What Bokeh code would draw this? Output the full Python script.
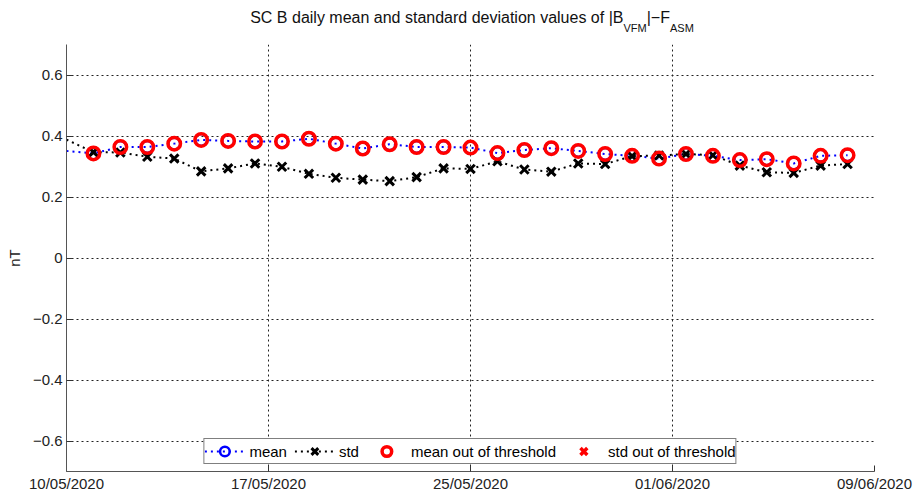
import pandas as pd
from bokeh.plotting import figure
from bokeh.layouts import column
from bokeh.models import (ColumnDataSource, FixedTicker, Legend, LegendItem, Range1d, Div)
from bokeh.embed import file_html
from bokeh.resources import INLINE

# ---------------- data ----------------
# daily samples; first sample (10/05) sits on the left axis edge (line only)
dates = ["2020-05-10", "2020-05-11", "2020-05-12", "2020-05-13", "2020-05-14", "2020-05-15",
         "2020-05-16", "2020-05-17", "2020-05-18", "2020-05-19", "2020-05-20", "2020-05-21",
         "2020-05-22", "2020-05-23", "2020-05-24", "2020-05-25", "2020-05-26", "2020-05-27",
         "2020-05-28", "2020-05-29", "2020-05-30", "2020-05-31", "2020-06-01", "2020-06-02",
         "2020-06-03", "2020-06-04", "2020-06-05", "2020-06-06", "2020-06-07", "2020-06-08"]
mean_vals = [0.351, 0.343, 0.364, 0.364, 0.375, 0.387, 0.384, 0.382, 0.382, 0.391,
             0.375, 0.359, 0.373, 0.364, 0.364, 0.362, 0.344, 0.354, 0.360, 0.351,
             0.341, 0.335, 0.326, 0.341, 0.335, 0.321, 0.324, 0.310, 0.335, 0.337]
std_vals = [0.388, 0.347, 0.346, 0.332, 0.326, 0.284, 0.294, 0.310, 0.299, 0.276,
            0.263, 0.257, 0.252, 0.265, 0.294, 0.292, 0.317, 0.290, 0.283, 0.310,
            0.308, 0.334, 0.336, 0.341, 0.337, 0.303, 0.281, 0.279, 0.303, 0.308]
# all shown mean values are out of threshold; no std value is (NaN placeholder)
mean_out_dates = dates[1:]
mean_out_vals = mean_vals[1:]
std_out_dates = ["2020-05-11"]
std_out_vals = [float("nan")]

x_range_dates = ["2020-05-10 00:00", "2020-06-09 00:00"]
x_tick_dates = ["2020-05-10 00:00", "2020-05-17 12:00", "2020-05-25 00:00",
                "2020-06-01 12:00", "2020-06-09 00:00"]
x_tick_labels = ["10/05/2020", "17/05/2020", "25/05/2020", "01/06/2020", "09/06/2020"]
y_ticks = [-0.6, -0.4, -0.2, 0.0, 0.2, 0.4, 0.6]
y_tick_labels = ["\u22120.6", "\u22120.4", "\u22120.2", "0", "0.2", "0.4", "0.6"]
y_limits = [-0.7, 0.7]

title_main = "SC B daily mean and standard deviation values of |B"
title_sub1 = "VFM"
title_mid = "|\u2212F"
title_sub2 = "ASM"


def ms(d):
    return pd.Timestamp(d).value / 1e6


FONT = "Liberation Sans"

x = [pd.Timestamp(d) for d in dates]
src_all = ColumnDataSource(dict(x=x, mean=mean_vals, std=std_vals))
src_pts = ColumnDataSource(dict(x=x[1:], mean=mean_vals[1:], std=std_vals[1:]))
src_mout = ColumnDataSource(dict(x=[pd.Timestamp(d) for d in mean_out_dates], y=mean_out_vals))
src_sout = ColumnDataSource(dict(x=[pd.Timestamp(d) for d in std_out_dates], y=std_out_vals))

p = figure(width=917, height=465, x_axis_type="datetime", output_backend="svg",
           toolbar_location=None,
           x_range=Range1d(ms(x_range_dates[0]), ms(x_range_dates[1])),
           y_range=Range1d(y_limits[0], y_limits[1]),
           min_border_left=66, min_border_right=43, min_border_top=12, min_border_bottom=26,
           margin=(0, 0, 0, 0))
p.outline_line_color = None
p.background_fill_color = "white"
p.border_fill_color = "white"

# glyphs
r_mean_line = p.line("x", "mean", source=src_all, line_color="#0000ff", line_width=2, line_dash="2 4")
r_mean_pts = p.scatter("x", "mean", source=src_pts, marker="circle", size=12, fill_color=None,
                       line_color="#0000ff", line_width=2.5)
r_std_line = p.line("x", "std", source=src_all, line_color="black", line_width=2, line_dash="2 4")
r_std_pts = p.scatter("x", "std", source=src_pts, marker="x", size=12, line_color="black", line_width=3)
r_mout = p.scatter("x", "y", source=src_mout, marker="circle", size=12.5, fill_color=None,
                   line_color="#ff0000", line_width=3.5)
r_sout = p.scatter("x", "y", source=src_sout, marker="x", size=12, line_color="#ff0000", line_width=3.5)

# axes
xt = [ms(d) for d in x_tick_dates]
p.xaxis.ticker = FixedTicker(ticks=xt)
p.xaxis.major_label_overrides = {t: l for t, l in zip(xt, x_tick_labels)}
p.yaxis.ticker = FixedTicker(ticks=y_ticks)
p.yaxis.major_label_overrides = {t: l for t, l in zip(y_ticks, y_tick_labels)}
p.xgrid.ticker = FixedTicker(ticks=xt)
p.ygrid.ticker = FixedTicker(ticks=y_ticks)
for ax in (p.xaxis[0], p.yaxis[0]):
    ax.axis_line_color = "#555555"
    ax.axis_line_width = 1
    ax.major_tick_in = 6
    ax.major_tick_out = 0
    ax.major_tick_line_color = "#333333"
    ax.minor_tick_line_color = None
    ax.major_label_text_font = FONT
    ax.major_label_text_font_size = "15px"
    ax.major_label_text_color = "#222222"
p.xaxis.major_label_standoff = 3
p.yaxis.major_label_standoff = 4
p.yaxis.axis_label = "nT"
p.yaxis.axis_label_text_font = FONT
p.yaxis.axis_label_text_font_size = "15px"
p.yaxis.axis_label_text_font_style = "normal"
p.yaxis.axis_label_text_color = "#222222"
p.yaxis.axis_label_standoff = 7

for g in (p.xgrid[0], p.ygrid[0]):
    g.grid_line_color = "#222222"
    g.grid_line_width = 1
    g.grid_line_dash = "2 3"

# legend
legend = Legend(items=[
    LegendItem(label="mean", renderers=[r_mean_line, r_mean_pts]),
    LegendItem(label="std", renderers=[r_std_line, r_std_pts]),
    LegendItem(label="mean out of threshold", renderers=[r_mout]),
    LegendItem(label="std out of threshold", renderers=[r_sout]),
], orientation="horizontal", location="bottom_center")
legend.border_line_color = "black"
legend.border_line_width = 1
legend.background_fill_color = "white"
legend.background_fill_alpha = 1
legend.label_text_font = FONT
legend.label_text_font_size = "15px"
legend.label_text_color = "black"
legend.glyph_width = 40
legend.glyph_height = 24
legend.label_height = 18
legend.label_standoff = 5
legend.spacing = 7
legend.padding = 0
legend.margin = 7
p.add_layout(legend)

# title with subscripts (HTML above the figure)
sub_style = "font-size:11px; vertical-align:-9px;"
title_html = (
    '<div style="width:917px; height:32px; box-sizing:border-box; padding-top:9px; '
    'padding-left:27px; text-align:center; font-family:\'Liberation Sans\'; font-size:16px; '
    'line-height:18px; color:#111111; white-space:nowrap;">'
    f'{title_main}<span style="{sub_style}">{title_sub1}</span>{title_mid}'
    f'<span style="{sub_style}">{title_sub2}</span></div>'
)
title_div = Div(text=title_html, width=917, height=32, margin=(0, 0, 0, 0))

layout = column(title_div, p, spacing=0, margin=(0, 0, 0, 0))
open("out.html", "w").write(file_html(layout, INLINE))
